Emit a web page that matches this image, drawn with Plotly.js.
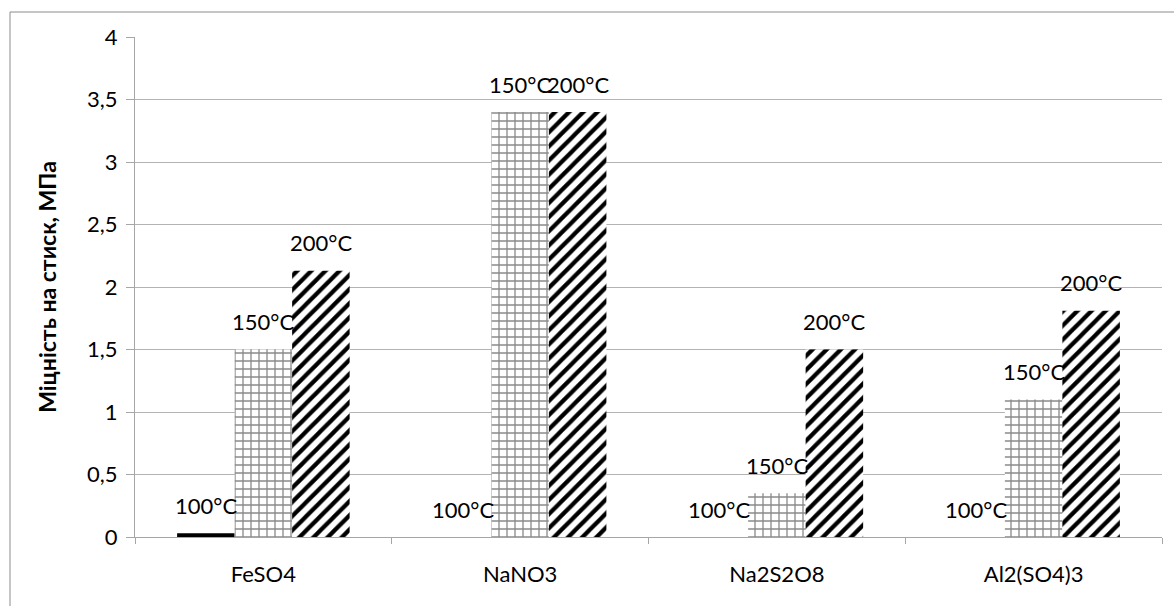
<!DOCTYPE html>
<html>
<head>
<meta charset="utf-8">
<script src="https://cdn.plot.ly/plotly-3.0.1.min.js"></script>
<style>
  html, body { margin: 0; padding: 0; background: #fff; overflow: hidden; }
  #chart { width: 1174px; height: 606px; }
</style>
</head>
<body>
<div id="chart"></div>
<script>
// Compressive strength by additive and firing temperature
const categories = ['FeSO4', 'NaNO3', 'Na2S2O8', 'Al2(SO4)3'];
const seriesNames = ['100°C', '150°C', '200°C'];
const t100 = [0.03, 0, 0, 0];
const t150 = [1.5, 3.4, 0.35, 1.1];
const t200 = [2.13, 3.4, 1.5, 1.81];
const yTickVals = [0, 0.5, 1, 1.5, 2, 2.5, 3, 3.5, 4];

const seriesValues = [t100, t150, t200];

const FONT = 'Lato, "Open Sans", sans-serif';
const margin = { l: 135, r: 12, t: 37, b: 69 };
const W = 1174, H = 606;
const bargap = 0.328;

const markers = [
  { color: '#000000', line: { width: 0 } },
  { color: '#ffffff', line: { width: 0 },
    pattern: { shape: '+', fgcolor: '#8a8a8a', bgcolor: '#ffffff', size: 8, solidity: 0.3 } },
  { color: '#ffffff', line: { width: 0 },
    pattern: { shape: '/', fgcolor: '#000000', bgcolor: '#ffffff', size: 10, solidity: 0.42 } }
];

const traces = seriesNames.map((name, i) => ({
  type: 'bar',
  name: name,
  x: categories,
  y: seriesValues[i],
  marker: markers[i],
  hoverinfo: 'x+y+name'
}));

// Series-name labels above each bar, offset to the bar's slot inside its group
const plotW = W - margin.l - margin.r;
const barPx = plotW / categories.length * (1 - bargap) / seriesNames.length;
const annotations = [];
seriesNames.forEach((name, i) => {
  categories.forEach((cat, j) => {
    annotations.push({
      x: cat, y: seriesValues[i][j], xref: 'x', yref: 'y',
      text: name, showarrow: false,
      xshift: (i - 1) * barPx, yshift: 28, yanchor: 'middle', xanchor: 'center',
      font: { family: FONT, size: 22, color: '#000' }
    });
  });
});

const layout = {
  width: W, height: H,
  margin: margin,
  paper_bgcolor: '#ffffff', plot_bgcolor: '#ffffff',
  separators: ', ',
  barmode: 'group', bargap: bargap, bargroupgap: 0,
  showlegend: false,
  font: { family: FONT, size: 22, color: '#000' },
  xaxis: {
    type: 'category',
    showgrid: false, zeroline: false,
    showline: true, linecolor: '#a6a6a6', linewidth: 1,
    ticks: 'outside', tickson: 'boundaries', ticklen: 6, tickcolor: '#a6a6a6',
    ticklabelstandoff: 18,
    tickfont: { family: FONT, size: 22, color: '#000' }
  },
  yaxis: {
    range: [0, 4], tickvals: yTickVals,
    showgrid: true, gridcolor: '#b3b3b3', gridwidth: 1,
    zeroline: false,
    showline: true, linecolor: '#a6a6a6', linewidth: 1,
    ticks: 'outside', ticklen: 8, tickcolor: '#a6a6a6',
    ticklabelstandoff: 4,
    tickfont: { family: FONT, size: 22, color: '#000' },
    title: { text: '<b>Міцність на стиск, МПа</b>', standoff: 24,
             font: { family: FONT, size: 23, color: '#000' } }
  },
  annotations: annotations,
  shapes: [{
    type: 'rect', xref: 'paper', yref: 'paper', layer: 'below',
    x0: (10 - margin.l) / plotW, x1: 1.2,
    y0: -0.3, y1: 1 + (margin.t - 12) / (H - margin.t - margin.b),
    line: { color: '#8c8c8c', width: 1 }, fillcolor: 'rgba(0,0,0,0)'
  }]
};

Plotly.newPlot('chart', traces, layout, { displayModeBar: false, staticPlot: true });
</script>
</body>
</html>
